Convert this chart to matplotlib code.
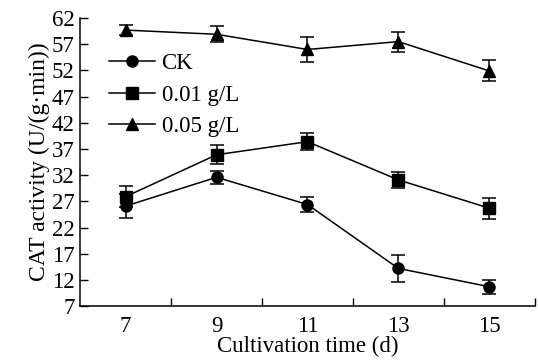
import matplotlib
matplotlib.use("Agg")
import matplotlib.pyplot as plt
from matplotlib.lines import Line2D

days = [7, 9, 11, 13, 15]
ck = [26.1, 31.6, 26.4, 14.2, 10.7]
ck_err = [2.3, 1.2, 1.4, 2.5, 1.3]
c001 = [27.9, 35.9, 38.4, 31.1, 25.7]
c001_err = [2.0, 1.8, 1.6, 1.5, 2.0]
c005 = [59.7, 58.9, 56.0, 57.5, 51.9]
c005_err = [0.9, 1.5, 2.3, 1.9, 2.0]
labels = ["CK", "0.01 g/L", "0.05 g/L"]
markers = ['o', 's', '^']
yticks = [7, 12, 17, 22, 27, 32, 37, 42, 47, 52, 57, 62]

plt.rcParams['font.family'] = ['Liberation Serif', 'DejaVu Serif']
fig = plt.figure(figsize=(5.38, 3.61), dpi=100)
ax = fig.add_axes([0.149, 0.152, 0.845, 0.798])

handles = []
for y, e, m, lab in zip([ck, c001, c005], [ck_err, c001_err, c005_err], markers, labels):
    ax.errorbar(days, y, yerr=e, fmt='-', marker=m, color='black', ms=8, lw=1.1,
                elinewidth=1.1, capsize=5, capthick=1.1)
    handles.append(Line2D([], [], color='black', lw=1.1, marker=m, ms=8))

ax.set_xlim(6, 16)
ax.set_ylim(7, 62)
ax.set_yticks(yticks)
ax.set_xticks(days)
ax.set_xticks([8, 10, 12, 14, 16], minor=True)
ax.tick_params(axis='x', which='major', length=0, labelsize=16.5, pad=7)
ax.tick_params(axis='x', which='minor', direction='in', length=6, width=1)
ax.tick_params(axis='y', direction='in', length=6, width=1, labelsize=16.5, pad=4)
for s in ['top', 'right']:
    ax.spines[s].set_visible(False)
for s in ['left', 'bottom']:
    ax.spines[s].set_linewidth(1.1)
ax.set_xlabel("Cultivation time (d)", fontsize=16.5, labelpad=-1)
ax.set_ylabel("CAT activity (U/(g\u00b7min))", fontsize=17, labelpad=1)
leg = ax.legend(handles, labels, loc='upper left', bbox_to_anchor=(0.043, 0.91), frameon=False,
                fontsize=16.5, handlelength=2.0, labelspacing=0.45, handletextpad=0.3, borderaxespad=0)
fig.savefig("out.png", dpi=100)
